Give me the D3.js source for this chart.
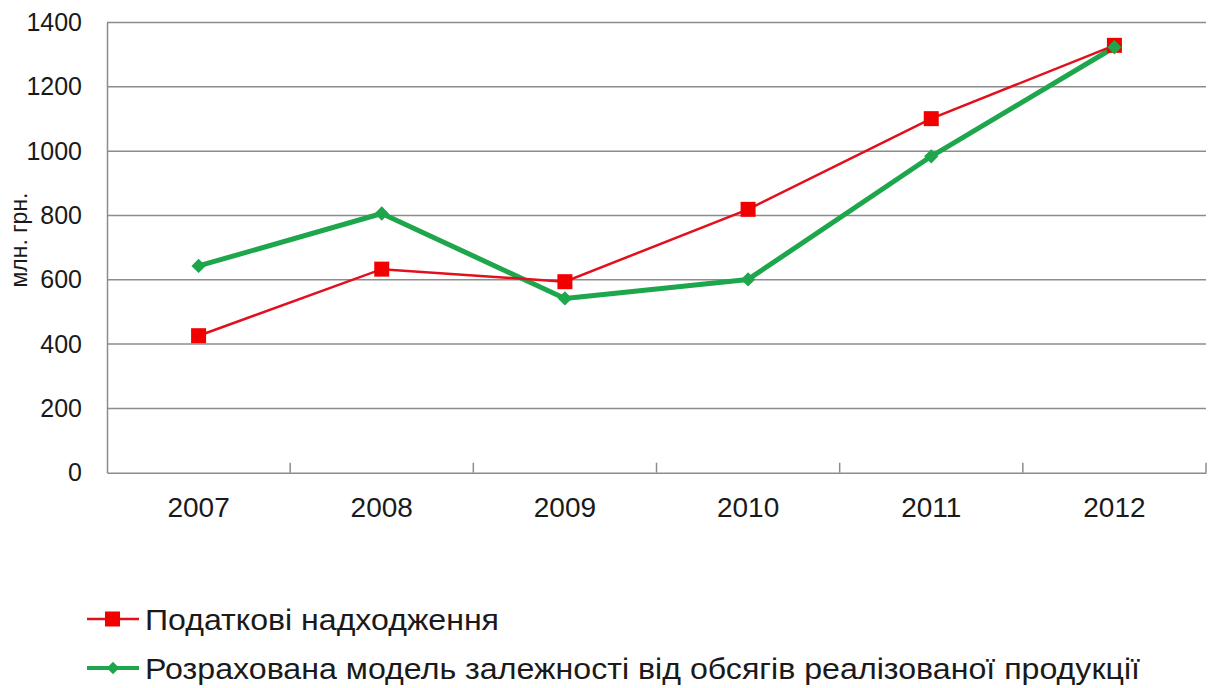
<!DOCTYPE html>
<html>
<head>
<meta charset="utf-8">
<script src="https://cdn.jsdelivr.net/npm/d3@7"></script>
<style>
  html, body { margin: 0; padding: 0; background: #fff; }
  svg { display: block; font-family: "Liberation Sans", Arial, sans-serif; }
</style>
</head>
<body>
<svg id="chart" width="1210" height="688"></svg>
<script>
// Years on the category axis
const years = ["2007", "2008", "2009", "2010", "2011", "2012"];
// Tax revenues, mln UAH
const taxRevenue = [426, 633, 594, 819, 1101, 1329];
// Modelled dependency on volumes of sold products, mln UAH
const modelValues = [643, 806, 542, 601, 984, 1323];
// Value axis ticks
const yTicks = [0, 200, 400, 600, 800, 1000, 1200, 1400];

const seriesNames = [
  "Податкові надходження",
  "Розрахована модель залежності від обсягів реалізованої продукції"
];

const svg = d3.select("#chart");
const plotLeft = 107, plotRight = 1206, plotTop = 22.5, plotBottom = 472.7;

const x = d3.scaleBand().domain(years).range([plotLeft, plotRight]);
const y = d3.scaleLinear().domain([0, 1400]).range([plotBottom, plotTop]);

const gridColor = "#8c8c8c";
const textColor = "#1a1a1a";

// horizontal gridlines
svg.append("g").selectAll("line").data(yTicks.filter(d => d > 0)).join("line")
  .attr("x1", plotLeft).attr("x2", plotRight)
  .attr("y1", d => y(d)).attr("y2", d => y(d))
  .attr("stroke", gridColor).attr("stroke-width", 1.5);

// value axis
const yAxis = svg.append("g").attr("transform", `translate(${plotLeft},0)`)
  .call(d3.axisLeft(y).tickValues(yTicks).tickFormat(d3.format("d"))
    .tickSize(0).tickPadding(25));
yAxis.select(".domain").attr("stroke", gridColor).attr("stroke-width", 1.5);
yAxis.selectAll("text").attr("font-size", 25).attr("fill", textColor)
  .attr("font-family", "Liberation Sans, Arial, sans-serif");

// category axis with inner tick marks between bands
const xAxis = svg.append("g").attr("transform", `translate(0,${plotBottom})`)
  .call(d3.axisBottom(x).tickSize(0).tickPadding(24));
xAxis.select(".domain").attr("stroke", gridColor).attr("stroke-width", 1.5);
xAxis.selectAll("text").attr("font-size", 28).attr("fill", textColor)
  .attr("font-family", "Liberation Sans, Arial, sans-serif");

const boundaries = years.slice(1).map(d => x(d)).concat([plotRight]);
svg.append("g").selectAll("line").data(boundaries).join("line")
  .attr("x1", d => d).attr("x2", d => d)
  .attr("y1", plotBottom).attr("y2", plotBottom - 10)
  .attr("stroke", gridColor).attr("stroke-width", 1.5);

// y title
svg.append("text")
  .attr("transform", "translate(27,240) rotate(-90)")
  .attr("text-anchor", "middle")
  .attr("font-size", 23).attr("fill", textColor)
  .text("млн. грн.");

const cx = d => x(d) + x.bandwidth() / 2;
const redLine = "#e2101c", redMark = "#f20000";
const green = "#1ea64c";

const line = d3.line().x((d, i) => cx(years[i])).y(d => y(d));

// modelled series
svg.append("path").datum(modelValues)
  .attr("d", line).attr("fill", "none")
  .attr("stroke", green).attr("stroke-width", 5).attr("stroke-linejoin", "round");

// tax revenues series
svg.append("path").datum(taxRevenue)
  .attr("d", line).attr("fill", "none")
  .attr("stroke", redLine).attr("stroke-width", 2.5);

svg.append("g").selectAll("rect").data(taxRevenue).join("rect")
  .attr("x", (d, i) => cx(years[i]) - 7.5).attr("y", d => y(d) - 7.5)
  .attr("width", 15).attr("height", 15).attr("fill", redMark);

const diamond = d3.symbol().type(d3.symbolDiamond2).size(130);
svg.append("g").selectAll("path").data(modelValues).join("path")
  .attr("transform", (d, i) => `translate(${cx(years[i])},${y(d)})`)
  .attr("d", diamond).attr("fill", green);

// legend
const legend = svg.append("g");
const legendRows = [
  { name: seriesNames[0], color: redLine, mark: "square", width: 2.5, yPos: 619, len: 354 },
  { name: seriesNames[1], color: green, mark: "diamond", width: 4, yPos: 668, len: 995 }
];
legendRows.forEach(r => {
  legend.append("line").attr("x1", 87).attr("x2", 139)
    .attr("y1", r.yPos).attr("y2", r.yPos)
    .attr("stroke", r.color).attr("stroke-width", r.width);
  if (r.mark === "square") {
    legend.append("rect").attr("x", 105).attr("y", r.yPos - 7.5)
      .attr("width", 15).attr("height", 15).attr("fill", redMark);
  } else {
    legend.append("path").attr("transform", `translate(113,${r.yPos})`)
      .attr("d", d3.symbol().type(d3.symbolDiamond2).size(100)).attr("fill", green);
  }
  legend.append("text").attr("x", 145).attr("y", r.yPos + 11)
    .attr("font-size", 30).attr("fill", textColor)
    .attr("textLength", r.len).attr("lengthAdjust", "spacingAndGlyphs")
    .text(r.name);
});
</script>
</body>
</html>
